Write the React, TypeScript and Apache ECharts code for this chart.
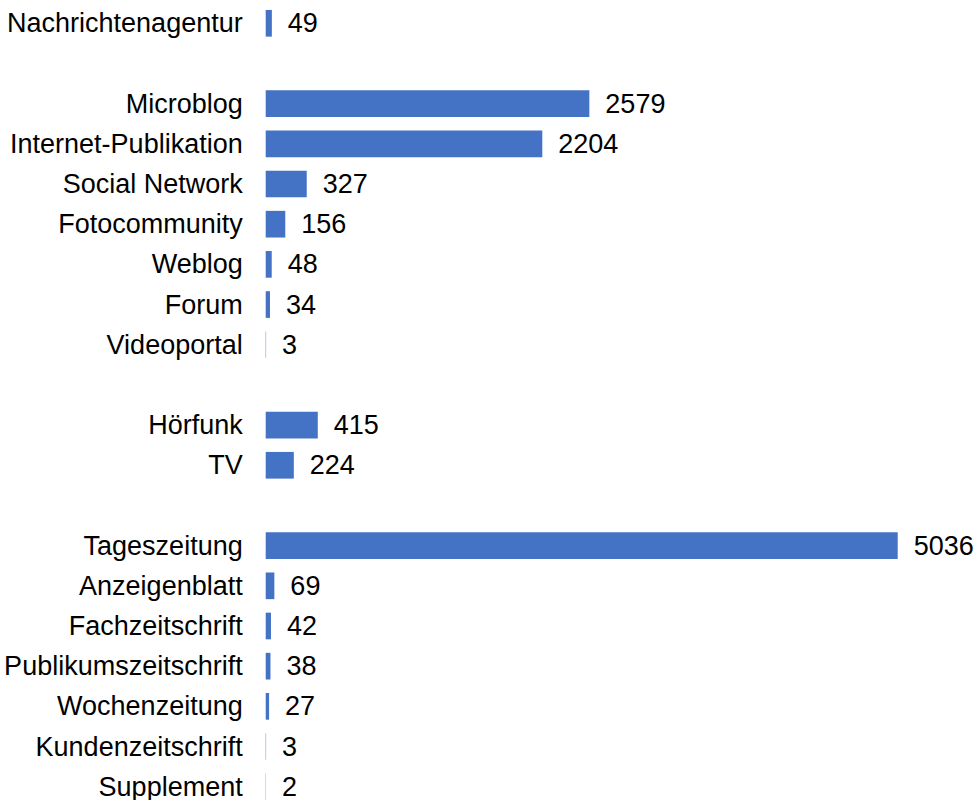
import React, { useEffect, useRef } from "react";
import * as echarts from "echarts";

const categories: string[] = [
  "Nachrichtenagentur",
  "",
  "Microblog",
  "Internet-Publikation",
  "Social Network",
  "Fotocommunity",
  "Weblog",
  "Forum",
  "Videoportal",
  "",
  "Hörfunk",
  "TV",
  "",
  "Tageszeitung",
  "Anzeigenblatt",
  "Fachzeitschrift",
  "Publikumszeitschrift",
  "Wochenzeitung",
  "Kundenzeitschrift",
  "Supplement",
];

const values: (number | null)[] = [
  49, null, 2579, 2204, 327, 156, 48, 34, 3, null, 415, 224, null, 5036, 69, 42, 38, 27, 3, 2,
];

const FONT = "'Liberation Sans', Arial, sans-serif";

export default function App() {
  const ref = useRef<HTMLDivElement>(null);
  useEffect(() => {
    if (!ref.current) return;
    const chart = echarts.init(ref.current, undefined, { renderer: "svg" });
    chart.setOption({
      animation: false,
      backgroundColor: "#ffffff",
      grid: { left: 265.7, right: 77.3, top: 3.2, bottom: 3.2, containLabel: false },
      xAxis: {
        type: "value",
        min: 0,
        max: 5036,
        show: false,
      },
      yAxis: {
        type: "category",
        inverse: true,
        data: categories,
        axisLine: { show: false },
        axisTick: { show: false },
        splitLine: { show: false },
        axisLabel: {
          interval: 0,
          margin: 23,
          fontSize: 27,
          fontFamily: FONT,
          color: "#000000",
        },
      },
      series: [
        {
          type: "bar",
          data: values,
          barCategoryGap: "33.6%",
          itemStyle: { color: "#4472C4" },
          label: {
            show: true,
            position: "right",
            distance: 16,
            fontSize: 27,
            fontFamily: FONT,
            color: "#000000",
          },
        },
      ],
    });
    return () => chart.dispose();
  }, []);
  return (
    <div
      ref={ref}
      style={{ position: "absolute", left: 0, top: 0, width: 975, height: 810 }}
    />
  );
}
